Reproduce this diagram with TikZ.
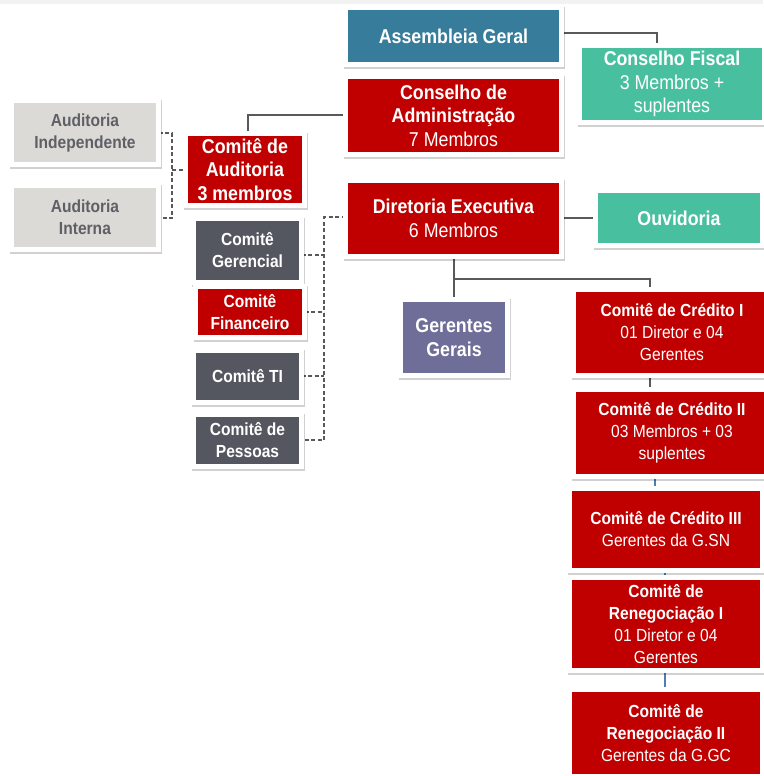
\documentclass[tikz,border=0pt]{standalone}
\usepackage{fontspec}
\setmainfont[FakeStretch=0.89]{Liberation Sans}
\usetikzlibrary{backgrounds}
\definecolor{asmblue}{HTML}{377C9B}
\definecolor{cred}{HTML}{C00000}
\definecolor{cgreen}{HTML}{48C0A0}
\definecolor{cdark}{HTML}{545760}
\definecolor{cpurple}{HTML}{6F6E98}
\definecolor{clight}{HTML}{DCDAD6}
\definecolor{audtext}{HTML}{5F6066}
\definecolor{lgray}{HTML}{595959}
\definecolor{lblue}{HTML}{4A7EBB}
\tikzset{
  box/.style={draw=white, line width=5pt, inner sep=1pt, outer sep=0pt, align=center, text=white,
    preaction={draw=black, draw opacity=0.18, line width=5pt, transform canvas={xshift=1.2pt,yshift=-2.2pt}}},
  big/.style={font=\fontsize{20}{23.5}\selectfont},
  small/.style={font=\fontsize{17.5}{22}\selectfont},
  conn/.style={draw=lgray, line width=1.4pt},
  bconn/.style={draw=lblue, line width=1.2pt},
  dconn/.style={draw=lgray, line width=1.3pt, dash pattern=on 4pt off 2.5pt},
}
\begin{document}
\begin{tikzpicture}[x=1pt,y=-1pt]
\useasboundingbox (0,0) rectangle (763,776);
\fill[gray!10] (0,0) rectangle (763,4);
% main column
\node[box,big,fill=asmblue,minimum width=216,minimum height=57] (asm) at (453.5,36) {\textbf{Assembleia Geral}};
\node[box,big,fill=cgreen,minimum width=185,minimum height=77] (fis) at (672,84) {\textbf{Conselho Fiscal}\\3 Membros +\\suplentes};
\node[box,big,fill=cred,minimum width=216,minimum height=78] (adm) at (453.5,115.5) {\textbf{Conselho de}\\\textbf{Administração}\\7 Membros};
\node[box,big,fill=cred,minimum width=216,minimum height=76] (dir) at (453.5,218.5) {\textbf{Diretoria Executiva}\\6 Membros};
\node[box,big,fill=cgreen,minimum width=167,minimum height=55] (ouv) at (679,218) {\textbf{Ouvidoria}};
\node[box,big,fill=cpurple,minimum width=107,minimum height=76] (ger) at (454,337.5) {\textbf{Gerentes}\\\textbf{Gerais}};
% credit committees
\node[box,small,fill=cred,minimum width=197,minimum height=86] (c1) at (672,332.5) {\textbf{Comitê de Crédito I}\\01 Diretor e 04\\Gerentes};
\node[box,small,fill=cred,minimum width=197,minimum height=87] (c2) at (672,433) {\textbf{Comitê de Crédito II}\\03 Membros + 03\\suplentes};
\node[box,small,fill=cred,minimum width=193,minimum height=82] (c3) at (666,529.5) {\textbf{Comitê de Crédito III}\\Gerentes da G.SN};
\node[box,small,fill=cred,minimum width=193,minimum height=93] (r1) at (666,624) {\textbf{Comitê de}\\\textbf{Renegociação I}\\01 Diretor e 04\\Gerentes};
\node[box,small,fill=cred,minimum width=193,minimum height=87] (r2) at (666,733) {\textbf{Comitê de}\\\textbf{Renegociação II}\\Gerentes da G.GC};
% left side
\node[box,small,fill=clight,text=audtext,minimum width=147,minimum height=64] (aind) at (85,132.5) {\textbf{Auditoria}\\\textbf{Independente}};
\node[box,small,fill=clight,text=audtext,minimum width=147,minimum height=64] (aint) at (85,217.5) {\textbf{Auditoria}\\\textbf{Interna}};
\node[box,big,fill=cred,minimum width=119,minimum height=72] (caud) at (245,169.5) {\textbf{Comitê de}\\\textbf{Auditoria}\\\textbf{3 membros}};
\node[box,small,fill=cdark,minimum width=108,minimum height=64] (cger) at (247.5,250.5) {\textbf{Comitê}\\\textbf{Gerencial}};
\node[box,small,fill=cred,minimum width=109,minimum height=51] (cfin) at (250,312) {\textbf{Comitê}\\\textbf{Financeiro}};
\node[box,small,fill=cdark,minimum width=108,minimum height=52] (cti) at (247.5,376.5) {\textbf{Comitê TI}};
\node[box,small,fill=cdark,minimum width=108,minimum height=52] (cpes) at (247.5,440.5) {\textbf{Comitê de}\\\textbf{Pessoas}};
% coordinates
\coordinate (asmR) at (657,33);
\coordinate (admL) at (248,115);
\coordinate (dirB) at (454,279);
\coordinate (c1T) at (650,279);
\coordinate (audbus) at (172,170);
\coordinate (dirbus) at (324,217);
\begin{scope}[on background layer]
\draw[conn] (asm.east |- asmR) -- (asmR) -- (asmR |- fis.north);
\draw[conn] (adm.west |- admL) -- (admL) -- (admL |- caud.north);
\draw[conn] (dir.east |- ouv.west) -- (ouv.west);
\draw[conn] (dirB |- dir.south) -- (dirB) -- (dirB |- ger.north);
\draw[conn] (dirB) -- (c1T) -- (c1T |- c1.north);
\draw[conn] (c1T |- c1.south) -- (c1T |- c2.north);
\draw[bconn] (655,0 |- c2.south) -- (655,0 |- c3.north);
\draw[bconn] (665,0 |- c3.south) -- (665,0 |- r1.north);
\draw[bconn] (665,0 |- r1.south) -- (665,0 |- r2.north);
\draw[dconn] (aind.east |- 0,133) -- (audbus |- 0,133) -- (audbus |- 0,218) -- (aint.east |- 0,218);
\draw[dconn] (audbus) -- (caud.west |- audbus);
\draw[dconn] (dir.west |- dirbus) -- (dirbus) -- (dirbus |- 0,440) -- (cpes.east |- 0,440);
\draw[dconn] (cger.east |- 0,255) -- (dirbus |- 0,255);
\draw[dconn] (cfin.east |- 0,312) -- (dirbus |- 0,312);
\draw[dconn] (cti.east |- 0,376) -- (dirbus |- 0,376);
\end{scope}
\end{tikzpicture}
\end{document}
